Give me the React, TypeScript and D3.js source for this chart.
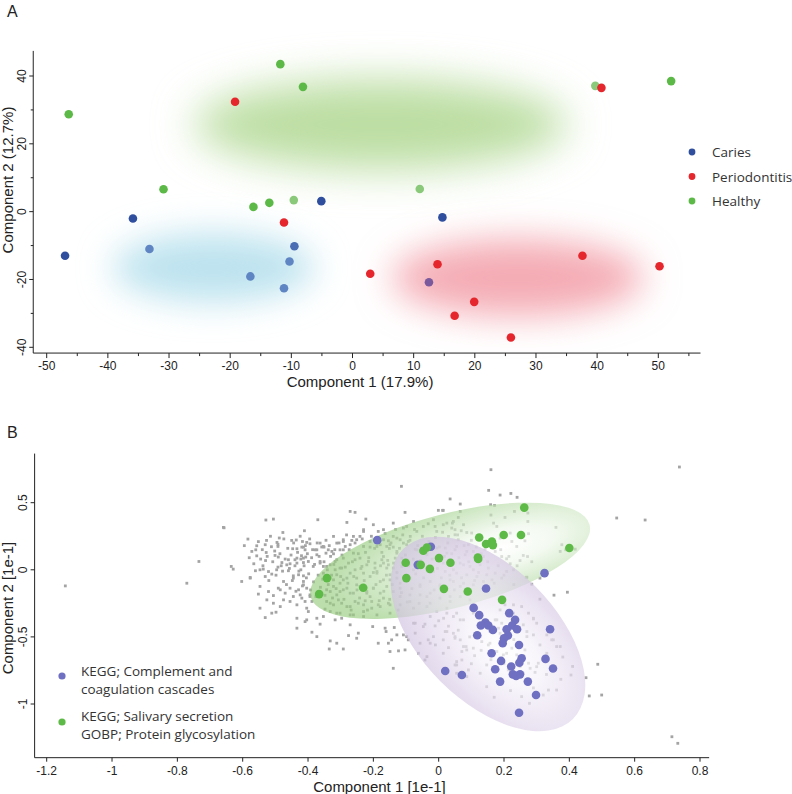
import React from 'react';
import * as d3 from 'd3';

// ---------------- Panel A data ----------------
const categoriesA = ['Caries', 'Periodontitis', 'Healthy'];
const healthyA = [[-46.4, 28.7], [-11.8, 43.5], [-8.1, 36.8], [-30.9, 6.6], [-16.2, 1.4], [-13.6, 2.6], [52.1, 38.5]];
const healthyA_light = [[-9.6, 3.4], [39.7, 37.1], [11.0, 6.7]];
const periodontitisA = [[-19.2, 32.4], [-11.2, -3.2], [2.9, -18.3], [40.7, 36.5], [13.9, -15.5], [19.9, -26.6], [16.7, -30.7], [25.9, -37.1], [37.6, -13.0], [50.2, -16.1]];
const cariesA_dark = [[-5.1, 3.1], [-35.9, -2.0], [-47.0, -13.0], [14.7, -1.7]];
const cariesA_mid = [[-9.5, -10.2]];
const cariesA_light = [[-33.2, -11.0], [-10.3, -14.7], [-16.7, -19.1], [-11.2, -22.6]];
const mixedA = [[12.5, -20.8]];
// group ellipses: centre, radii (data units)
const ellipseGroupsA = ['Healthy', 'Caries', 'Periodontitis'];
const ellipseCentersA = [[4.6, 25.7], [-22.7, -16.5], [27.0, -19.5]];
const ellipseRadiiA = [[30.5, 13.2], [16.5, 10.2], [20.6, 11.3]];
const xTicksA = [-50, -40, -30, -20, -10, 0, 10, 20, 30, 40, 50];
const xMinorA = [-45, -35, -25, -15, -5, 5, 15, 25, 35, 45, 55];
const yTicksA = [-40, -20, 0, 20, 40];
const yMinorA = [-30, -10, 10, 30];

// ---------------- Panel B data ----------------
const legendB = [['KEGG; Complement and', 'coagulation cascades'], ['KEGG; Salivary secretion', 'GOBP; Protein glycosylation']];
const xTicksB = [-1.2, -1, -0.8, -0.6, -0.4, -0.2, 0, 0.2, 0.4, 0.6, 0.8];
const xTickLabelsB = ['-1.2', '-1', '-0.8', '-0.6', '-0.4', '-0.2', '0', '0.2', '0.4', '0.6', '0.8'];
const yTicksB = [-1, -0.5, 0, 0.5];
const yTickLabelsB = ['-1', '-0.5', '0', '0.5'];
// ellipses: centre and two semi-axis vectors (data units)
const ellipseGreenB = { c: [0.035, 0.067], u: [0.427, 0.269], v: [0.036, -0.340] };
const ellipsePurpleB = { c: [0.151, -0.478], u: [0.260, -0.633], v: [-0.145, -0.354] };

const complementB = [[-0.188, 0.221], [-0.024, 0.172], [-0.064, 0.037], [0.324, -0.025], [0.145, -0.139], [0.107, -0.284], [0.124, -0.338], [0.143, -0.393], [0.129, -0.415], [0.152, -0.415], [0.166, -0.448], [0.118, -0.488], [0.216, -0.323], [0.234, -0.373], [0.225, -0.415], [0.208, -0.443], [0.240, -0.443], [0.212, -0.490], [0.200, -0.510], [0.196, -0.547], [0.246, -0.560], [0.341, -0.443], [0.162, -0.622], [0.191, -0.679], [0.254, -0.659], [0.247, -0.692], [0.327, -0.664], [0.350, -0.736], [0.173, -0.741], [0.222, -0.721], [0.227, -0.779], [0.249, -0.779], [0.237, -0.791], [0.188, -0.833], [0.273, -0.833], [0.020, -0.754], [0.071, -0.784], [0.298, -0.933], [0.246, -1.065]];
const salivaryB = [[0.262, 0.463], [0.124, 0.241], [0.145, 0.192], [0.163, 0.211], [0.166, 0.184], [0.199, 0.259], [0.252, 0.259], [0.400, 0.162], [-0.047, 0.142], [-0.036, 0.166], [-0.101, 0.052], [-0.055, 0.037], [-0.027, 0.007], [0.001, 0.087], [0.036, 0.052], [0.120, 0.092], [0.121, 0.080], [-0.099, -0.062], [0.016, -0.142], [0.089, -0.162], [0.194, -0.224], [-0.342, -0.062], [-0.366, -0.181], [-0.231, -0.134]];

const proteinsB = [
  // sparse / outliers
  [-1.143, -0.12], [-0.771, -0.10], [-0.734, 0.062], [-0.659, 0.316], [0.160, 0.746], [-0.114, 0.622], [0.737, 0.766], [0.545, 0.386], [0.632, 0.371], [0.714, -1.244], [0.732, -1.293], [0.487, -0.704], [0.499, -0.933], [0.461, -0.940], [0.405, -0.784], [0.374, -0.816], [0.361, -0.896], [0.394, -0.167], [0.353, -0.189], [0.359, 0.316], [0.290, -0.366], [0.310, -0.219], [0.270, -0.055], [0.285, 0.060],
  [-0.370, 0.373], [-0.271, 0.435], [-0.256, 0.428], [-0.223, 0.378], [-0.281, 0.353],
  // upper right of the green ellipse
  [0.153, 0.592], [0.188, 0.557], [0.221, 0.569], [0.240, 0.540], [0.035, 0.528], [0.066, 0.490], [0.012, 0.443], [0.159, 0.485], [0.171, 0.480], [0.066, 0.435], [0.232, 0.435], [0.273, 0.423], [0.160, 0.408], [0.203, 0.390], [0.273, 0.360], [0.168, 0.348], [0.042, 0.348], [0.060, 0.390], [0.050, 0.299], [0.069, 0.291], [0.086, 0.278], [0.101, 0.274], [0.178, 0.323], [0.219, 0.274], [0.275, 0.269], [0.188, 0.236], [0.224, 0.211], [0.264, 0.216], [0.239, 0.174], [0.142, 0.154], [0.173, 0.137], [0.193, 0.099], [0.208, 0.082], [0.259, 0.107], [0.272, 0.099], [0.249, 0.069], [0.219, 0.045], [0.377, 0.187], [0.372, 0.137], [0.389, 0.149], [0.418, 0.154], [0.268, -0.057], [0.310, -0.062], [0.285, -0.107],
  // overlap zone
  [0.045, 0.360], [0.076, 0.336], [0.030, 0.249], [0.060, 0.224], [0.091, 0.187], [0.020, 0.162], [0.050, 0.149], [0.081, 0.112], [0.106, 0.137], [0.137, 0.099], [0.035, 0.075], [0.066, 0.050], [0.096, 0.025], [0.127, 0.037], [0.152, 0.013], [0.020, -0.012], [0.055, -0.025], [0.086, -0.037], [0.117, -0.050], [0.147, -0.037], [0.173, -0.025], [0.045, -0.087], [0.076, -0.100], [0.106, -0.112], [0.137, -0.087], [0.163, -0.075], [0.193, -0.062], [0.208, -0.012], [0.229, 0.000],
  [-0.159, 0.174], [-0.128, 0.137], [-0.098, 0.187], [-0.067, 0.149], [-0.036, 0.112], [-0.006, 0.162], [0.025, 0.124], [0.055, 0.174], [0.086, 0.137],
  [-0.169, 0.050], [-0.139, 0.013], [-0.108, 0.062], [-0.077, 0.000], [-0.047, 0.037], [-0.016, -0.013], [0.014, 0.050], [0.045, 0.000], [0.076, 0.037], [0.106, 0.000],
  [-0.149, -0.075], [-0.118, -0.100], [-0.088, -0.062], [-0.057, -0.124], [-0.026, -0.087], [0.004, -0.112], [0.035, -0.075], [0.066, -0.124],
  [-0.118, -0.199], [-0.088, -0.236], [-0.057, -0.187], [-0.026, -0.249], [0.004, -0.211], [0.035, -0.236], [0.066, -0.199], [0.096, -0.224],
  [0.028, 0.200], [0.034, -0.040], [0.040, 0.120], [0.048, -0.150], [0.058, 0.260], [0.062, 0.090], [0.070, -0.060], [0.078, 0.180], [0.084, -0.180], [0.092, 0.060], [0.100, 0.220], [0.110, -0.080], [0.115, 0.170], [0.122, -0.020], [0.130, 0.120], [0.140, -0.130], [0.150, 0.060], [0.160, 0.190], [0.170, -0.100], [0.182, 0.030], [0.190, 0.150], [0.200, -0.040], [0.215, 0.100], [0.230, -0.110], [0.240, 0.030],
  // purple region
  [0.015, -0.361], [0.045, -0.348], [0.076, -0.373], [0.020, -0.460], [0.050, -0.498], [0.066, -0.522], [0.084, -0.572], [0.106, -0.584], [0.071, -0.609], [0.071, -0.672], [0.050, -0.709], [0.091, -0.746], [0.157, -0.460], [0.183, -0.435], [0.193, -0.398], [0.173, -0.373], [0.259, -0.410], [0.270, -0.460], [0.290, -0.361], [0.361, -0.572], [0.331, -0.485], [0.346, -0.522], [0.275, -0.696], [0.280, -0.734], [0.305, -0.696], [0.295, -0.764], [0.336, -0.896], [0.320, -0.933], [0.254, -0.945], [0.278, -0.995], [0.451, -0.804], [0.152, -0.560], [0.224, -0.584], [0.264, -0.597], [0.132, -0.535], [0.106, -0.323], [0.117, -0.286], [0.188, -0.299], [0.203, -0.261], [0.229, -0.261], [0.254, -0.274], [0.275, -0.323], [0.290, -0.485], [0.178, -0.609], [0.198, -0.634], [0.239, -0.634], [0.213, -0.746], [0.259, -0.771], [0.147, -0.709],
  [-0.047, -0.423], [-0.016, -0.498], [0.014, -0.522], [0.045, -0.473], [0.076, -0.572], [-0.036, -0.647], [0.014, -0.622], [0.055, -0.684], [0.086, -0.597], [0.127, -0.498], [0.157, -0.547], [-0.057, -0.547], [-0.077, -0.398], [-0.026, -0.348], [0.025, -0.323], [0.066, -0.373], [0.101, -0.274], [0.055, -0.771], [0.086, -0.796], [0.127, -0.771], [0.147, -0.871], [0.188, -0.821], [0.249, -0.722], [0.280, -0.821], [0.300, -0.722], [0.331, -0.622], [0.351, -0.522], [0.372, -0.572], [0.300, -0.398], [0.270, -0.498], [0.249, -0.572], [0.208, -0.622], [0.229, -0.323], [0.178, -0.373], [0.157, -0.423], [0.188, -0.473],
  [0.000, -0.380], [0.030, -0.420], [0.060, -0.450], [0.095, -0.500], [0.110, -0.640], [0.130, -0.600], [0.160, -0.670], [0.200, -0.700], [0.230, -0.520], [0.260, -0.640], [0.310, -0.560], [0.330, -0.780], [0.290, -0.880], [0.220, -0.900], [0.170, -0.950], [0.380, -0.650], [0.410, -0.720], [0.100, -0.700], [0.030, -0.580], [-0.010, -0.560],
  // below the green ellipse
  [-0.404, -0.286], [-0.399, -0.311], [-0.348, -0.293], [-0.332, -0.311], [-0.373, -0.361], [-0.353, -0.348], [-0.317, -0.373], [-0.297, -0.361], [-0.409, -0.386], [-0.363, -0.405], [-0.271, -0.410], [-0.388, -0.465], [-0.373, -0.498], [-0.332, -0.530], [-0.312, -0.547], [-0.276, -0.490], [-0.246, -0.472], [-0.251, -0.510], [-0.335, -0.590], [-0.292, -0.590], [-0.202, -0.423], [-0.161, -0.460], [-0.164, -0.435], [-0.136, -0.430], [-0.144, -0.522], [-0.154, -0.547], [-0.185, -0.547], [-0.128, -0.485], [-0.108, -0.485], [-0.098, -0.498], [-0.093, -0.522], [-0.149, -0.609], [-0.123, -0.604], [-0.103, -0.597], [-0.139, -0.734], [-0.072, -0.398], [-0.042, -0.405], [-0.011, -0.418], [-0.032, -0.522], [-0.026, -0.547], [-0.072, -0.472], [-0.042, -0.672], [-0.062, -0.622], [0.025, -0.460], [0.050, -0.510], [0.055, -0.709],
  // left cloud, lower part
  [-0.603, -0.087], [-0.577, -0.062], [-0.547, -0.124], [-0.552, -0.181], [-0.521, -0.162], [-0.506, -0.192], [-0.485, -0.149], [-0.475, -0.224], [-0.455, -0.236], [-0.547, -0.286], [-0.511, -0.323], [-0.498, -0.316], [-0.531, -0.356], [-0.434, -0.361], [-0.434, -0.435], [-0.404, -0.373], [-0.414, -0.087], [-0.424, -0.187], [-0.409, -0.236],
  [-0.445, -0.062], [-0.455, -0.137], [-0.429, -0.149], [-0.404, -0.137], [-0.445, -0.199], [-0.419, -0.211], [-0.394, -0.199], [-0.434, -0.261], [-0.491, -0.137], [-0.475, -0.087], [-0.470, -0.174], [-0.506, -0.249], [-0.485, -0.274], [-0.526, -0.224],
  // left cloud, upper part
  [-0.529, 0.371], [-0.506, 0.378], [-0.657, 0.313], [-0.411, 0.291], [-0.477, 0.278], [-0.584, 0.229], [-0.488, 0.237], [-0.527, 0.219], [-0.495, 0.204], [-0.450, 0.219], [-0.436, 0.222], [-0.417, 0.211], [-0.557, 0.179], [-0.531, 0.187], [-0.512, 0.172], [-0.492, 0.174], [-0.447, 0.157], [-0.434, 0.157], [-0.414, 0.169], [-0.572, 0.137], [-0.560, 0.149], [-0.528, 0.129], [-0.557, 0.104], [-0.501, 0.107], [-0.491, 0.095], [-0.434, 0.087], [-0.407, 0.095], [-0.545, 0.080], [-0.530, 0.069], [-0.460, 0.075], [-0.440, 0.075], [-0.422, 0.080], [-0.480, 0.054], [-0.635, 0.025], [-0.629, 0.005], [-0.492, 0.020], [-0.482, 0.030], [-0.465, 0.037], [-0.455, 0.045], [-0.434, 0.050], [-0.414, 0.054], [-0.561, -0.007], [-0.547, 0.000], [-0.537, 0.005], [-0.521, -0.013], [-0.496, 0.000], [-0.460, -0.007], [-0.422, 0.000], [-0.577, -0.057], [-0.531, -0.050], [-0.511, -0.032], [-0.445, -0.045], [-0.429, -0.037], [-0.414, -0.045],
  [-0.595, 0.180], [-0.580, 0.090], [-0.566, 0.045], [-0.552, 0.210], [-0.540, 0.150], [-0.538, 0.030], [-0.525, 0.100], [-0.520, -0.080], [-0.515, 0.250], [-0.508, 0.060], [-0.502, 0.140], [-0.498, -0.040], [-0.492, 0.190], [-0.486, 0.120], [-0.478, -0.010], [-0.474, 0.230], [-0.470, 0.080], [-0.466, -0.110], [-0.462, 0.160], [-0.457, 0.010], [-0.452, 0.110], [-0.448, -0.080], [-0.444, 0.200], [-0.440, 0.030], [-0.437, -0.160], [-0.432, 0.130], [-0.428, -0.010], [-0.424, 0.250], [-0.420, 0.105], [-0.417, -0.120], [-0.412, 0.030], [-0.408, 0.180], [-0.405, -0.060], [-0.402, 0.120], [-0.398, -0.030], [-0.395, 0.230], [-0.392, -0.150], [-0.389, 0.090], [-0.386, 0.150], [-0.383, -0.090], [-0.380, 0.040], [-0.376, -0.200], [-0.372, 0.200], [-0.369, -0.040], [-0.366, 0.100], [-0.362, -0.130], [-0.358, 0.170], [-0.355, -0.070], [-0.351, 0.060], [-0.348, -0.190], [-0.345, 0.220], [-0.341, 0.000], [-0.338, -0.110], [-0.335, 0.180], [-0.331, 0.100], [-0.328, -0.040], [-0.325, -0.210], [-0.321, 0.040], [-0.318, 0.150], [-0.314, -0.140],
  // inside the green ellipse
  [-0.103, 0.428], [-0.001, 0.443], [0.014, 0.443], [-0.230, 0.286], [-0.185, 0.286], [-0.139, 0.249], [-0.098, 0.323], [-0.067, 0.286], [-0.032, 0.343], [-0.011, 0.323], [-0.006, 0.286], [0.025, 0.348], [0.040, 0.311], [0.050, 0.261], [-0.241, 0.249], [-0.292, 0.211], [-0.266, 0.219], [-0.154, 0.216], [-0.118, 0.224], [-0.093, 0.211], [-0.179, 0.187], [-0.139, 0.169], [-0.151, 0.159], [-0.072, 0.154], [-0.210, 0.169], [-0.404, 0.204], [-0.394, 0.194], [-0.419, 0.169], [-0.409, 0.149], [-0.363, 0.199], [-0.351, 0.169], [-0.338, 0.149], [-0.345, 0.124], [-0.378, 0.149], [-0.373, 0.112], [-0.322, 0.119], [-0.302, 0.149], [-0.286, 0.174], [-0.261, 0.124], [-0.241, 0.087], [-0.312, 0.075], [-0.292, 0.087], [-0.276, 0.050], [-0.220, 0.037], [-0.195, 0.050], [-0.169, 0.099], [-0.128, 0.124], [-0.113, 0.087], [-0.159, 0.013], [-0.414, 0.087], [-0.399, 0.062], [-0.384, 0.025], [-0.363, 0.062], [-0.353, 0.025], [-0.332, 0.037], [-0.317, 0.000], [-0.302, 0.013], [-0.256, 0.000], [-0.230, -0.025], [-0.189, -0.013],
  [-0.414, -0.112], [-0.394, -0.187], [-0.388, -0.236], [-0.322, -0.075], [-0.302, -0.100], [-0.281, -0.062], [-0.332, -0.162], [-0.312, -0.187], [-0.292, -0.149], [-0.271, -0.174], [-0.251, -0.112], [-0.220, -0.174], [-0.200, -0.137], [-0.179, -0.087], [-0.343, -0.236], [-0.322, -0.261], [-0.297, -0.249], [-0.271, -0.274], [-0.246, -0.249], [-0.225, -0.231], [-0.205, -0.286], [-0.185, -0.261], [-0.169, -0.211], [-0.149, -0.261], [-0.302, -0.323], [-0.261, -0.336], [-0.230, -0.348], [-0.118, -0.137], [-0.088, -0.187], [-0.057, -0.112], [-0.026, -0.174], [0.004, -0.124], [0.035, -0.199], [-0.118, -0.261], [-0.077, -0.286], [-0.036, -0.274], [-0.006, -0.311], [0.025, -0.286], [0.055, -0.323],
  [-0.373, 0.149], [-0.353, 0.174], [-0.327, 0.137], [-0.312, 0.199], [-0.292, 0.149], [-0.271, 0.187], [-0.251, 0.224], [-0.230, 0.174], [-0.210, 0.211], [-0.189, 0.174], [-0.169, 0.224], [-0.149, 0.187], [-0.128, 0.236], [-0.108, 0.199], [-0.087, 0.249],
  [-0.363, 0.050], [-0.343, 0.025], [-0.317, 0.062], [-0.297, 0.013], [-0.256, 0.075], [-0.235, 0.025], [-0.215, 0.062], [-0.195, 0.013], [-0.174, 0.075], [-0.154, 0.037], [-0.133, 0.087], [-0.113, 0.025],
  [-0.353, -0.025], [-0.332, -0.062], [-0.312, -0.037], [-0.292, -0.075], [-0.271, -0.025], [-0.251, -0.062], [-0.210, -0.050], [-0.189, -0.025], [-0.169, -0.075], [-0.149, -0.037], [-0.128, -0.062],
  [-0.343, -0.149], [-0.322, -0.124], [-0.302, -0.162], [-0.281, -0.137], [-0.261, -0.174], [-0.241, -0.124], [-0.220, -0.162], [-0.200, -0.137], [-0.179, -0.174], [-0.159, -0.124], [-0.139, -0.162],
  [-0.332, -0.249], [-0.307, -0.224], [-0.281, -0.274], [-0.256, -0.236], [-0.230, -0.261], [-0.205, -0.236], [-0.179, -0.274], [-0.154, -0.249],
  [-0.312, -0.323], [-0.271, -0.336], [-0.230, -0.311], [-0.189, -0.336], [-0.149, -0.323],
  [-0.230, 0.299], [-0.200, 0.336], [-0.169, 0.299], [-0.139, 0.348], [-0.108, 0.311], [-0.077, 0.360], [-0.047, 0.323], [-0.016, 0.373], [0.014, 0.336], [-0.261, 0.249], [-0.292, 0.224], [-0.322, 0.249],
  [-0.305, 0.200], [-0.300, -0.050], [-0.296, 0.110], [-0.290, -0.220], [-0.286, 0.020], [-0.282, 0.260], [-0.278, -0.100], [-0.274, 0.150], [-0.268, -0.300], [-0.264, 0.060], [-0.260, -0.050], [-0.256, 0.200], [-0.250, -0.150], [-0.246, 0.120], [-0.242, -0.210], [-0.238, 0.010], [-0.234, 0.230], [-0.228, -0.080], [-0.224, 0.130], [-0.218, -0.300], [-0.214, 0.090], [-0.210, -0.200], [-0.206, 0.250], [-0.200, -0.020], [-0.196, 0.160], [-0.192, -0.110], [-0.186, 0.220], [-0.182, -0.230], [-0.178, 0.030], [-0.174, 0.130], [-0.168, -0.160], [-0.164, 0.270], [-0.160, -0.040], [-0.156, 0.070], [-0.150, -0.220], [-0.146, 0.200], [-0.142, -0.110], [-0.138, 0.050], [-0.132, 0.300], [-0.128, -0.020], [-0.124, -0.300], [-0.120, 0.160], [-0.114, -0.170], [-0.110, 0.260], [-0.106, -0.050], [-0.102, 0.110], [-0.096, -0.240], [-0.092, 0.030], [-0.088, 0.220], [-0.082, -0.140], [-0.078, 0.080], [-0.074, 0.300], [-0.070, -0.030], [-0.064, 0.180], [-0.060, -0.250], [-0.056, 0.070], [-0.050, 0.250], [-0.046, -0.060], [-0.040, 0.130], [-0.036, -0.200], [-0.030, 0.210], [-0.024, -0.020], [-0.020, 0.080], [-0.014, -0.150], [-0.010, 0.240], [-0.004, 0.010], [0.002, 0.170], [0.008, -0.060], [0.012, 0.280], [0.018, 0.100],
];

const AX = '"Liberation Sans", Arial, sans-serif';
const LG = '"Open Sans", "Noto Sans", sans-serif';

function ellipseGeom(e: { c: number[]; u: number[]; v: number[] }, xs: any, ys: any) {
  const cx = xs(e.c[0]), cy = ys(e.c[1]);
  const ux = xs(e.c[0] + e.u[0]) - cx, uy = ys(e.c[1] + e.u[1]) - cy;
  const vx = xs(e.c[0] + e.v[0]) - cx, vy = ys(e.c[1] + e.v[1]) - cy;
  return { cx, cy, a: Math.hypot(ux, uy), b: Math.hypot(vx, vy), ang: (Math.atan2(uy, ux) * 180) / Math.PI };
}

export default function App() {
  const xA = d3.scaleLinear().domain([-50, 50]).range([46.7, 658.3]);
  const yA = d3.scaleLinear().domain([-40, 40]).range([347.3, 76]);
  const xB = d3.scaleLinear().domain([-1.2, 0.8]).range([46.7, 700]);
  const yB = d3.scaleLinear().domain([-1, 0.5]).range([704, 502.7]);

  const colA: Record<string, string> = { Caries: '#2f4f9e', Periodontitis: '#e5262c', Healthy: '#5cb947' };
  const ellColA: Record<string, string> = { Healthy: '#bcdea3', Caries: '#bde3ef', Periodontitis: '#f4abb4' };
  const blurA: Record<string, number> = { Healthy: 21, Caries: 17, Periodontitis: 18 };

  const axA = { x0: xA(-52.2), x1: xA(56.9), y0: yA(47.4), y1: yA(-41.7) };
  const axB = { x0: xB(-1.237), x1: xB(0.828), y0: yB(0.866), y1: yB(-1.4) };

  const gG = ellipseGeom(ellipseGreenB, xB, yB);
  const gP = ellipseGeom(ellipsePurpleB, xB, yB);
  const rA = 4.3, rB = 4.3, sq = 2.8;

  const dot = (pts: number[][], xs: any, ys: any, fill: string, r: number, key: string) =>
    pts.map((p, i) => <circle key={key + i} cx={xs(p[0])} cy={ys(p[1])} r={r} fill={fill} />);

  return (
    <svg width={792} height={794} style={{ position: 'absolute', left: 0, top: 0, background: '#fff' }}>
      <defs>
        {ellipseGroupsA.map((g) => (
          <filter key={g} id={'blur' + g} x="-60%" y="-150%" width="220%" height="400%">
            <feGaussianBlur stdDeviation={blurA[g]} />
          </filter>
        ))}
        <radialGradient id="gradGreenB" cx="0.68" cy="0.5" r="0.62">
          <stop offset="0" stopColor="#ffffff" />
          <stop offset="0.3" stopColor="#eef7ea" />
          <stop offset="1" stopColor="#98cd81" />
        </radialGradient>
        <radialGradient id="gradPurpleB" cx="0.6" cy="0.5" r="0.6">
          <stop offset="0" stopColor="#ffffff" />
          <stop offset="0.3" stopColor="#f5f1f9" />
          <stop offset="1" stopColor="#d0c0e0" />
        </radialGradient>
      </defs>
      <rect x={0} y={0} width={792} height={794} fill="#fff" />

      {/* ---------------- Panel A ---------------- */}
      <text x={7} y={17} fontFamily={AX} fontSize={16} fill="#222">A</text>
      {ellipseGroupsA.map((g, i) => (
        <ellipse key={g} cx={xA(ellipseCentersA[i][0])} cy={yA(ellipseCentersA[i][1])}
          rx={xA(ellipseCentersA[i][0] + ellipseRadiiA[i][0]) - xA(ellipseCentersA[i][0])}
          ry={yA(ellipseCentersA[i][1]) - yA(ellipseCentersA[i][1] + ellipseRadiiA[i][1])}
          fill={ellColA[g]} filter={`url(#blur${g})`} />
      ))}
      {/* axes A */}
      <line x1={axA.x0} x2={axA.x0} y1={axA.y0} y2={axA.y1} stroke="#222" strokeWidth={1} />
      <line x1={axA.x0} x2={axA.x1} y1={axA.y1} y2={axA.y1} stroke="#222" strokeWidth={1} />
      {xTicksA.map((t) => (
        <g key={'xa' + t}>
          <line x1={xA(t)} x2={xA(t)} y1={axA.y1} y2={axA.y1 + 5} stroke="#222" />
          <text x={xA(t)} y={axA.y1 + 17} textAnchor="middle" fontFamily={AX} fontSize={12} fill="#222">{String(t)}</text>
        </g>
      ))}
      {xMinorA.map((t) => (
        <line key={'xam' + t} x1={xA(t)} x2={xA(t)} y1={axA.y1} y2={axA.y1 + 3} stroke="#222" />
      ))}
      {yTicksA.map((t) => (
        <g key={'ya' + t}>
          <line x1={axA.x0 - 4} x2={axA.x0} y1={yA(t)} y2={yA(t)} stroke="#222" />
          <text transform={`translate(${axA.x0 - 7},${yA(t)}) rotate(-90)`} textAnchor="middle" fontFamily={AX} fontSize={12} fill="#222">{String(t)}</text>
        </g>
      ))}
      {yMinorA.map((t) => (
        <line key={'yam' + t} x1={axA.x0 - 2.5} x2={axA.x0} y1={yA(t)} y2={yA(t)} stroke="#222" />
      ))}
      <text x={360} y={387} textAnchor="middle" fontFamily={AX} fontSize={15} fill="#222">Component 1 (17.9%)</text>
      <text transform={`translate(13,180) rotate(-90)`} textAnchor="middle" fontFamily={AX} fontSize={15} fill="#222">Component 2 (12.7%)</text>

      {dot(healthyA, xA, yA, colA.Healthy, rA, 'h')}
      {dot(healthyA_light, xA, yA, '#8bc97a', rA, 'hl')}
      {dot(cariesA_dark, xA, yA, colA.Caries, rA, 'cd')}
      {dot(cariesA_mid, xA, yA, '#4a6db3', rA, 'cm')}
      {dot(cariesA_light, xA, yA, '#5f86c3', rA, 'cl')}
      {dot(mixedA, xA, yA, '#7a5a9d', rA, 'mx')}
      {dot(periodontitisA, xA, yA, colA.Periodontitis, rA, 'p')}

      {categoriesA.map((c, i) => (
        <g key={'lgA' + c}>
          <circle cx={692} cy={152 + i * 24.5} r={3.4} fill={colA[c]} />
          <text x={712} y={157 + i * 24.5} fontFamily={LG} fontSize={13.5} fill="#333">{c}</text>
        </g>
      ))}

      {/* ---------------- Panel B ---------------- */}
      <text x={7} y={438} fontFamily={AX} fontSize={16} fill="#222">B</text>
      {proteinsB.map((p, i) => (
        <rect key={'g' + i} x={xB(p[0]) - sq / 2} y={yB(p[1]) - sq / 2} width={sq} height={sq} fill="#a4a4a4" />
      ))}
      <ellipse cx={0} cy={0} rx={gG.a} ry={gG.b} transform={`translate(${gG.cx},${gG.cy}) rotate(${gG.ang})`} fill="url(#gradGreenB)" fillOpacity={0.66} />
      <ellipse cx={0} cy={0} rx={gP.a} ry={gP.b} transform={`translate(${gP.cx},${gP.cy}) rotate(${gP.ang})`} fill="url(#gradPurpleB)" fillOpacity={0.7} />
      {dot(complementB, xB, yB, '#6f70c1', rB, 'bb')}
      {dot(salivaryB, xB, yB, '#5dba46', rB, 'gb')}

      <line x1={axB.x0} x2={axB.x0} y1={axB.y0} y2={axB.y1} stroke="#222" strokeWidth={1} />
      <line x1={axB.x0} x2={axB.x1} y1={axB.y1} y2={axB.y1} stroke="#222" strokeWidth={1} />
      {xTicksB.map((t, i) => (
        <g key={'xb' + i}>
          <line x1={xB(t)} x2={xB(t)} y1={axB.y1} y2={axB.y1 + 4} stroke="#222" />
          <text x={xB(t)} y={axB.y1 + 17} textAnchor="middle" fontFamily={AX} fontSize={12} fill="#222">{xTickLabelsB[i]}</text>
        </g>
      ))}
      {yTicksB.map((t, i) => (
        <g key={'yb' + i}>
          <line x1={axB.x0 - 4} x2={axB.x0} y1={yB(t)} y2={yB(t)} stroke="#222" />
          <text transform={`translate(${axB.x0 - 8},${yB(t)}) rotate(-90)`} textAnchor="middle" fontFamily={AX} fontSize={12} fill="#222">{yTickLabelsB[i]}</text>
        </g>
      ))}
      <text x={379.5} y={792} textAnchor="middle" fontFamily={AX} fontSize={15} fill="#222">Component 1 [1e-1]</text>
      <text transform={`translate(13,608) rotate(-90)`} textAnchor="middle" fontFamily={AX} fontSize={15} fill="#222">Component 2 [1e-1]</text>

      {legendB.map((lines, i) => (
        <g key={'lgB' + i}>
          <circle cx={62} cy={676 + i * 46} r={3.6} fill={i === 0 ? '#6f70c1' : '#5dba46'} />
          {lines.map((ln, j) => (
            <text key={j} x={81} y={676 + i * 44.5 + j * 18} fontFamily={LG} fontSize={13.5} fill="#333">{ln}</text>
          ))}
        </g>
      ))}
    </svg>
  );
}
